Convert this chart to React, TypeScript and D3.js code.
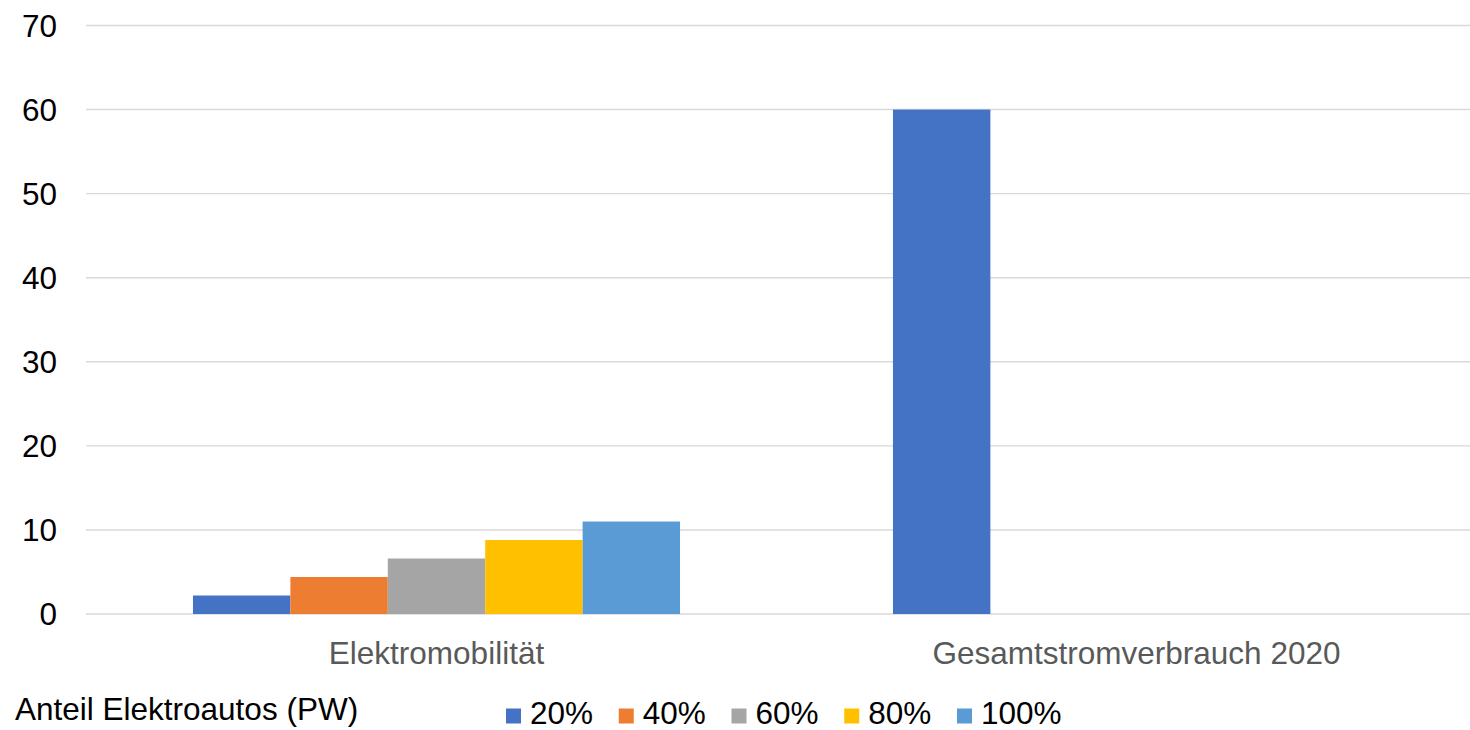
import * as d3 from "d3";

const categories = ["Elektromobilität", "Gesamtstromverbrauch 2020"];
const seriesNames = ["20%", "40%", "60%", "80%", "100%"];
const share20 = [2.2, 60];
const share40 = [4.4, null];
const share60 = [6.6, null];
const share80 = [8.8, null];
const share100 = [11, null];
const yTicks = [0, 10, 20, 30, 40, 50, 60, 70];
const legendTitle = "Anteil Elektroautos (PW)";

const colors = ["#4472C4", "#ED7D31", "#A5A5A5", "#FFC000", "#5B9BD5"];

const W = 1470;
const H = 730;
const FONT = "'Liberation Sans', Arial, sans-serif";

export default function App() {
  const seriesValues = [share20, share40, share60, share80, share100];

  const x0 = d3.scaleBand<string>().domain(categories).range([86.5, 1486.5]).padding(0);
  const x1 = d3
    .scaleBand<string>()
    .domain(seriesNames)
    .range([0, x0.bandwidth()])
    .paddingInner(0)
    .paddingOuter(1.093);
  const y = d3.scaleLinear().domain([0, 70]).range([614, 25.5]);

  // legend entries sit at a fixed step along the bottom row
  const legendX = d3
    .scaleLinear()
    .domain([0, seriesNames.length - 1])
    .range([506, 957]);

  return (
    <svg
      width={W}
      height={H}
      style={{ position: "absolute", left: 0, top: 0, background: "#fff" }}
      fontFamily={FONT}
    >
      {yTicks.map((t) => (
        <g key={t}>
          <line x1={86} x2={W} y1={y(t)} y2={y(t)} stroke="#d9d9d9" strokeWidth={1.4} />
          <text x={57} y={y(t)} dy="0.36em" textAnchor="end" fontSize={31.5} fill="#000">
            {t}
          </text>
        </g>
      ))}

      {categories.map((cat, ci) => (
        <g key={cat} transform={`translate(${x0(cat)},0)`}>
          {seriesNames.map((s, si) => {
            const v = seriesValues[si][ci];
            if (v == null) return null;
            return (
              <rect
                key={s}
                x={x1(s)}
                y={y(v)}
                width={x1.bandwidth()}
                height={y(0) - y(v)}
                fill={colors[si]}
              />
            );
          })}
          <text
            x={x0.bandwidth() / 2}
            y={664}
            textAnchor="middle"
            fontSize={31.5}
            fill="#595959"
          >
            {cat}
          </text>
        </g>
      ))}

      <text x={15} y={720} fontSize={31.5} fill="#000">
        {legendTitle}
      </text>
      {seriesNames.map((s, i) => (
        <g key={s} transform={`translate(${legendX(i)},0)`}>
          <rect x={0} y={708.5} width={15} height={15} fill={colors[i]} />
          <text x={24} y={723.5} fontSize={31.5} fill="#000">
            {s}
          </text>
        </g>
      ))}
    </svg>
  );
}
